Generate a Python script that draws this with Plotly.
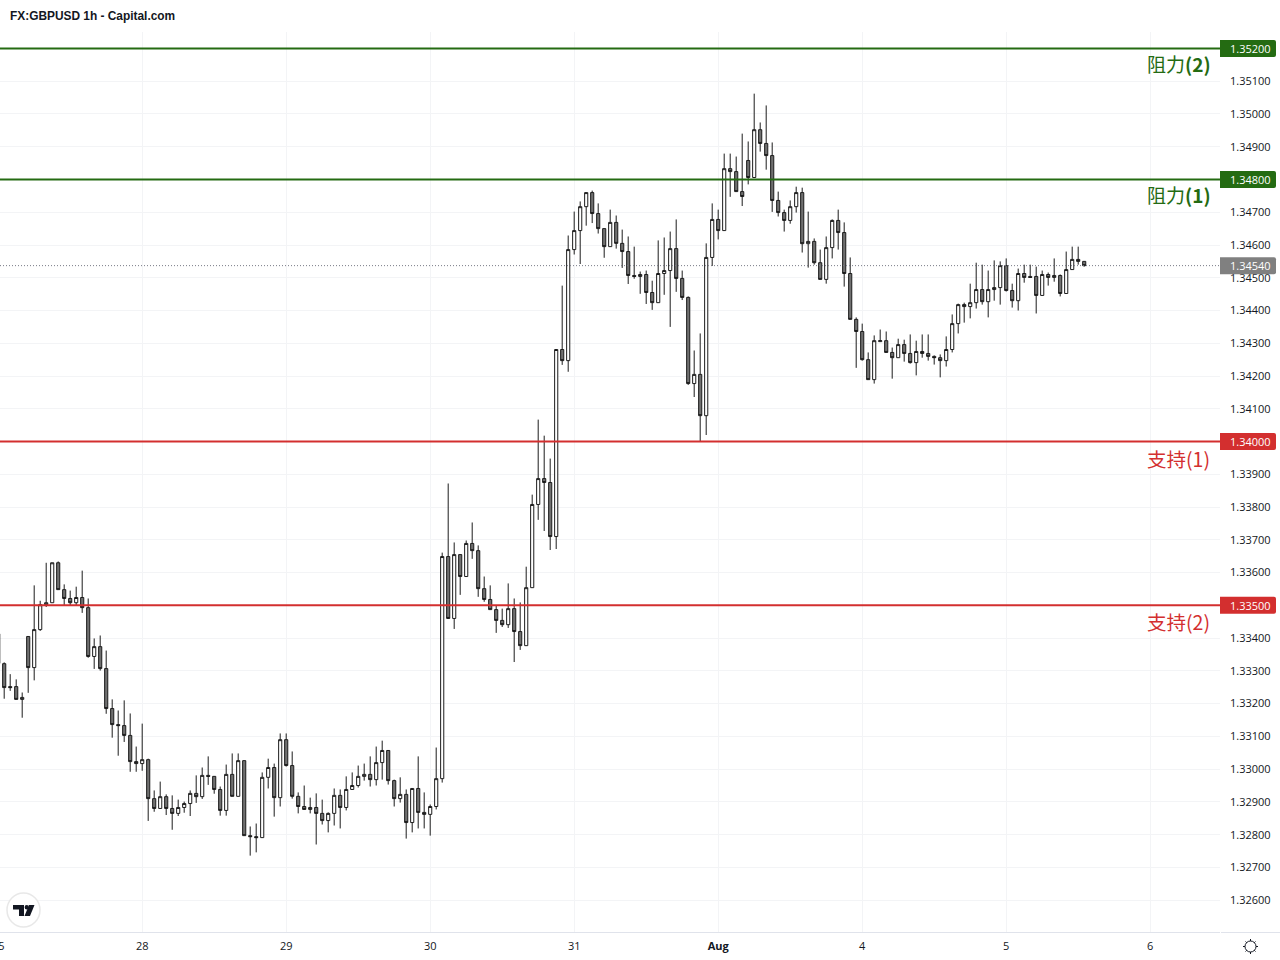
import plotly.graph_objects as go

OPEN = [
 1.33413,1.33322,1.33252,1.33252,1.33213,1.33405,1.33310,1.33426,1.33502,1.33508,1.33630,1.33548,
 1.33521,1.33508,1.33524,1.33493,1.33344,1.33374,1.33307,1.33185,1.33136,1.33133,1.33103,1.33023,
 1.33017,1.33029,1.32910,1.32880,1.32916,1.32880,1.32865,1.32883,1.32895,1.32926,1.32916,1.32981,
 1.32978,1.32938,1.32874,1.32984,1.32917,1.33026,1.32797,1.32794,1.32791,1.32975,1.33005,1.32913,
 1.33090,1.33011,1.32917,1.32886,1.32877,1.32883,1.32865,1.32843,1.32865,1.32920,1.32883,1.32938,
 1.32950,1.32978,1.32984,1.32968,1.33020,1.33057,1.32965,1.32910,1.32923,1.32837,1.32941,1.32868,
 1.32862,1.32886,1.32971,1.33649,1.33460,1.33655,1.33588,1.33689,1.33667,1.33551,1.33518,1.33487,
 1.33454,1.33441,1.33490,1.33420,1.33377,1.33554,1.33808,1.33887,1.33875,1.33710,1.34281,1.34247,
 1.34586,1.34644,1.34717,1.34760,1.34696,1.34650,1.34595,1.34669,1.34605,1.34580,1.34507,1.34504,
 1.34510,1.34455,1.34424,1.34513,1.34522,1.34589,1.34498,1.34440,1.34177,1.34205,1.34079,1.34562,
 1.34678,1.34644,1.34833,1.34824,1.34763,1.34858,1.34806,1.34952,1.34910,1.34873,1.34736,1.34699,
 1.34675,1.34717,1.34760,1.34604,1.34611,1.34546,1.34495,1.34592,1.34675,1.34638,1.34513,1.34373,
 1.34336,1.34250,1.34189,1.34305,1.34308,1.34272,1.34256,1.34296,1.34269,1.34241,1.34275,1.34269,
 1.34260,1.34256,1.34247,1.34281,1.34360,1.34418,1.34412,1.34424,1.34464,1.34427,1.34464,1.34470,
 1.34537,1.34461,1.34430,1.34513,1.34504,1.34504,1.34446,1.34510,1.34501,1.34507,1.34452,1.34525,1.34556,1.34550,
]
CLOSE = [
 1.33323,1.33249,1.33249,1.33213,1.33219,1.33310,1.33426,1.33502,1.33508,1.33630,1.33548,1.33521,
 1.33508,1.33524,1.33493,1.33344,1.33374,1.33307,1.33185,1.33136,1.33133,1.33103,1.33023,1.33017,
 1.33029,1.32910,1.32880,1.32916,1.32880,1.32865,1.32883,1.32895,1.32926,1.32916,1.32981,1.32978,
 1.32938,1.32874,1.32984,1.32917,1.33026,1.32797,1.32794,1.32791,1.32975,1.33005,1.32913,1.33090,
 1.33011,1.32917,1.32886,1.32877,1.32883,1.32865,1.32843,1.32865,1.32920,1.32883,1.32938,1.32950,
 1.32978,1.32984,1.32968,1.33020,1.33057,1.32965,1.32910,1.32923,1.32837,1.32941,1.32868,1.32862,
 1.32886,1.32971,1.33649,1.33460,1.33655,1.33588,1.33689,1.33667,1.33551,1.33518,1.33487,1.33454,
 1.33441,1.33490,1.33420,1.33377,1.33554,1.33808,1.33887,1.33875,1.33710,1.34281,1.34247,1.34586,
 1.34644,1.34717,1.34760,1.34696,1.34650,1.34595,1.34669,1.34605,1.34580,1.34507,1.34504,1.34510,
 1.34455,1.34424,1.34513,1.34522,1.34589,1.34498,1.34440,1.34177,1.34205,1.34079,1.34562,1.34678,
 1.34644,1.34833,1.34824,1.34763,1.34748,1.34806,1.34952,1.34910,1.34873,1.34736,1.34699,1.34675,
 1.34717,1.34760,1.34604,1.34611,1.34546,1.34495,1.34592,1.34675,1.34638,1.34513,1.34373,1.34336,
 1.34250,1.34189,1.34308,1.34308,1.34272,1.34256,1.34296,1.34269,1.34241,1.34275,1.34269,1.34260,
 1.34256,1.34247,1.34281,1.34360,1.34418,1.34412,1.34424,1.34464,1.34427,1.34464,1.34470,1.34537,
 1.34461,1.34430,1.34513,1.34501,1.34501,1.34446,1.34510,1.34501,1.34507,1.34452,1.34525,1.34556,1.34550,1.34537,
]
HIGH = [
 1.33414,1.33326,1.33290,1.33274,1.33234,1.33405,1.33561,1.33514,1.33630,1.33630,1.33634,1.33564,
 1.33545,1.33557,1.33606,1.33521,1.33399,1.33408,1.33362,1.33213,1.33179,1.33210,1.33170,1.33069,
 1.33139,1.33032,1.32935,1.32962,1.32923,1.32920,1.32907,1.32901,1.32935,1.32981,1.33005,1.33039,
 1.32978,1.32947,1.33014,1.33048,1.33048,1.33026,1.32825,1.32834,1.32990,1.33032,1.33017,1.33109,
 1.33109,1.33054,1.32929,1.32950,1.32913,1.32926,1.32907,1.32868,1.32941,1.32938,1.32978,1.32990,
 1.33011,1.33017,1.33039,1.33069,1.33087,1.33057,1.32968,1.32975,1.32938,1.32941,1.33039,1.32929,
 1.32892,1.33066,1.33661,1.33872,1.33692,1.33655,1.33698,1.33753,1.33683,1.33588,1.33561,1.33499,
 1.33490,1.33567,1.33521,1.33509,1.33618,1.33838,1.34067,1.34018,1.33948,1.34281,1.34476,1.34629,
 1.34702,1.34733,1.34760,1.34766,1.34727,1.34650,1.34708,1.34690,1.34647,1.34626,1.34595,1.34519,
 1.34522,1.34491,1.34614,1.34623,1.34641,1.34678,1.34522,1.34443,1.34278,1.34330,1.34605,1.34727,
 1.34708,1.34879,1.34879,1.34870,1.34940,1.34916,1.35062,1.34974,1.35026,1.34913,1.34763,1.34708,
 1.34736,1.34778,1.34775,1.34702,1.34620,1.34586,1.34626,1.34678,1.34708,1.34669,1.34562,1.34379,
 1.34360,1.34272,1.34324,1.34342,1.34336,1.34287,1.34314,1.34311,1.34327,1.34308,1.34327,1.34327,
 1.34263,1.34266,1.34321,1.34388,1.34421,1.34424,1.34482,1.34546,1.34540,1.34522,1.34553,1.34550,
 1.34559,1.34482,1.34528,1.34540,1.34540,1.34534,1.34522,1.34516,1.34559,1.34510,1.34580,1.34595,1.34595,1.34550,
]
LOW = [
 1.33323,1.33215,1.33239,1.33213,1.33157,1.33233,1.33271,1.33422,1.33495,1.33508,1.33548,1.33498,
 1.33498,1.33498,1.33477,1.33340,1.33306,1.33301,1.33169,1.33096,1.33041,1.33083,1.32992,1.32992,
 1.32995,1.32842,1.32870,1.32880,1.32860,1.32815,1.32857,1.32867,1.32857,1.32897,1.32909,1.32952,
 1.32925,1.32858,1.32858,1.32917,1.32917,1.32797,1.32736,1.32746,1.32791,1.32941,1.32855,1.32886,
 1.33008,1.32910,1.32865,1.32877,1.32865,1.32770,1.32831,1.32807,1.32828,1.32819,1.32874,1.32938,
 1.32944,1.32965,1.32947,1.32950,1.32968,1.32953,1.32886,1.32898,1.32788,1.32807,1.32819,1.32819,
 1.32797,1.32877,1.32959,1.33460,1.33428,1.33532,1.33588,1.33642,1.33526,1.33511,1.33487,1.33416,
 1.33434,1.33431,1.33327,1.33364,1.33377,1.33554,1.33761,1.33727,1.33669,1.33672,1.34234,1.34213,
 1.34571,1.34542,1.34659,1.34667,1.34635,1.34561,1.34595,1.34589,1.34530,1.34481,1.34497,1.34451,
 1.34420,1.34402,1.34424,1.34448,1.34350,1.34457,1.34432,1.34173,1.34136,1.34000,1.34020,1.34536,
 1.34617,1.34644,1.34747,1.34763,1.34719,1.34785,1.34806,1.34885,1.34830,1.34701,1.34687,1.34641,
 1.34665,1.34699,1.34577,1.34531,1.34540,1.34495,1.34482,1.34559,1.34586,1.34473,1.34373,1.34225,
 1.34247,1.34189,1.34177,1.34305,1.34272,1.34192,1.34256,1.34244,1.34238,1.34202,1.34256,1.34247,
 1.34235,1.34196,1.34229,1.34272,1.34330,1.34363,1.34376,1.34406,1.34418,1.34379,1.34430,1.34418,
 1.34458,1.34409,1.34400,1.34485,1.34501,1.34391,1.34446,1.34476,1.34488,1.34443,1.34452,1.34525,1.34540,1.34534,
]
BAR_INDEX = list(range(-24, 158))

DAY_TICKS = [0, 24, 48, 72, 96, 120, 144, 168]
DAY_LABELS = ["28", "29", "30", "31", "<b>Aug</b>", "4", "5", "6"]
PRICE_TICKS = [round(1.326 + k * 0.001, 3) for k in range(26)]

LEVELS = [1.35200, 1.34800, 1.34000, 1.33500]
LEVEL_TEXT = ["1.35200", "1.34800", "1.34000", "1.33500"]
LEVEL_NAMES = ["阻力<b>(2)</b>", "阻力<b>(1)</b>", "支持(1)", "支持(2)"]
LEVEL_COLORS = ["#246b12", "#246b12", "#d32f2f", "#d32f2f"]
LABEL_RIGHT = [1213, 1213, 1212, 1212]
LAST_PRICE = 1.34537
LAST_TEXT = "1.34540"

W, H = 1280, 960
L, R, T, B = 0, 60, 32, 28
PW, PH = W - L - R, H - T - B
FONT = "Open Sans, Liberation Sans, sans-serif"
CJK = "Noto Sans CJK SC, Noto Sans, sans-serif"
INK = "#131722"
TAG_PATH = "M 0 -8.5 L 54 -8.5 Q 56 -8.5 56 -6.5 L 56 6.5 Q 56 8.5 54 8.5 L 0 8.5 Z"


def px(x):
    return (x - L) / PW


def py(y):
    return (H - B - y) / PH


def pxy(x, y):
    return f"{px(x):.5f} {py(y):.5f}"


def add_tag(shapes, annotations, level, text, color):
    shapes.append(dict(type="path", xref="paper", yref="y", xsizemode="pixel", ysizemode="pixel",
                       xanchor=1, yanchor=level, path=TAG_PATH, fillcolor=color, line=dict(width=0),
                       layer="above"))
    annotations.append(dict(xref="paper", yref="y", x=1, y=level, xshift=30, xanchor="center", yanchor="middle",
                            text=text, showarrow=False, font=dict(family=FONT, size=11, color="#ffffff")))


fig = go.Figure(go.Candlestick(
    x=BAR_INDEX, open=OPEN, high=HIGH, low=LOW, close=CLOSE,
    increasing=dict(line=dict(color="#1c1c1c", width=1), fillcolor="#ffffff"),
    decreasing=dict(line=dict(color="#1c1c1c", width=1), fillcolor="#707070"),
    whiskerwidth=0, hoverinfo="skip", showlegend=False,
))

shapes = []
annotations = []
for level, tag, name, color, right in zip(LEVELS, LEVEL_TEXT, LEVEL_NAMES, LEVEL_COLORS, LABEL_RIGHT):
    shapes.append(dict(type="line", xref="paper", yref="y", x0=0, x1=1, y0=level, y1=level,
                       line=dict(color=color, width=2)))
    add_tag(shapes, annotations, level, tag, color)
    annotations.append(dict(xref="paper", yref="y", x=px(right), y=level, xanchor="right", yanchor="top",
                            yshift=0, text=name, showarrow=False,
                            font=dict(family=CJK, size=19.5 if right == 1212 else 19, color=color)))

shapes.append(dict(type="line", xref="paper", yref="y", x0=0, x1=1, y0=LAST_PRICE, y1=LAST_PRICE,
                   line=dict(color="#787b86", width=1, dash="1px,2px")))
add_tag(shapes, annotations, LAST_PRICE, LAST_TEXT, "#808080")

# clipped date label at the left edge ("25")
annotations.append(dict(xref="paper", yref="paper", x=px(-2), y=py(945), xanchor="center", yanchor="middle",
                        text="25", showarrow=False, font=dict(family=FONT, size=11, color=INK)))

# price-axis continuation of the bottom rule
shapes.append(dict(type="line", xref="paper", yref="paper", x0=px(1221), x1=px(1280), y0=py(932.5), y1=py(932.5),
                   line=dict(color="#e0e3eb", width=1)))

# logo badge
shapes.append(dict(type="circle", xref="paper", yref="paper", x0=px(7), x1=px(40), y0=py(927), y1=py(893),
                   line=dict(color="#e8e8e8", width=1.5), fillcolor="#ffffff"))
t_path = "M " + " L ".join(pxy(a, b) for a, b in [(13, 905), (24, 905), (24, 916), (19, 916), (19, 909.5), (13, 909.5)]) + " Z"
s_path = "M " + " L ".join(pxy(a, b) for a, b in [(29, 905), (34.5, 905), (30, 916), (24.5, 916)]) + " Z"
for p in (t_path, s_path):
    shapes.append(dict(type="path", xref="paper", yref="paper", path=p, fillcolor=INK, line=dict(width=0)))
shapes.append(dict(type="circle", xref="paper", yref="paper", x0=px(24.6), x1=px(28.9), y0=py(909.4), y1=py(905),
                   fillcolor=INK, line=dict(width=0)))

# settings icon
shapes.append(dict(type="circle", xref="paper", yref="paper", x0=px(1245), x1=px(1256), y0=py(952), y1=py(941),
                   line=dict(color=INK, width=1), fillcolor="#ffffff"))
for a, b, c, d in [(1250.5, 939, 1250.5, 941), (1250.5, 952, 1250.5, 954), (1243, 946.5, 1245, 946.5),
                   (1256, 946.5, 1258, 946.5), (1245.5, 941.5, 1246.8, 942.8), (1254.2, 950.2, 1255.5, 951.5),
                   (1254.2, 942.8, 1255.5, 941.5), (1245.5, 951.5, 1246.8, 950.2)]:
    shapes.append(dict(type="line", xref="paper", yref="paper", x0=px(a), x1=px(c), y0=py(b), y1=py(d),
                       line=dict(color=INK, width=1)))

fig.update_layout(
    width=W, height=H, margin=dict(l=L, r=R, t=T, b=B, pad=0), autosize=False,
    paper_bgcolor="#ffffff", plot_bgcolor="#ffffff", boxgap=0.25, showlegend=False,
    title=dict(text="<b>FX:GBPUSD 1h - Capital.com</b>", x=10 / W, xref="container", xanchor="left",
               y=1 - 15.5 / H, yref="container", yanchor="middle",
               font=dict(family="Liberation Sans, sans-serif", size=11.9, color=INK)),
    xaxis=dict(range=[-23.70, 179.6333], rangeslider=dict(visible=False), tickmode="array",
               tickvals=DAY_TICKS, ticktext=DAY_LABELS, showgrid=True, gridcolor="#f3f4f6", gridwidth=1,
               zeroline=False, showline=True, linecolor="#e0e3eb", linewidth=1, ticks="",
               tickfont=dict(family=FONT, size=11, color=INK), ticklabelstandoff=4, automargin=False),
    yaxis=dict(range=[1.325029, 1.352502], side="right", tickmode="array", tickvals=PRICE_TICKS,
               tickformat=".5f", showgrid=True, gridcolor="#f3f4f6", gridwidth=1, zeroline=False,
               showline=False, ticks="", ticklabelstandoff=9,
               tickfont=dict(family=FONT, size=11, color=INK), automargin=False),
    shapes=shapes, annotations=annotations, hovermode=False,
)

fig.write_html("out.html", config={"displayModeBar": False},
               post_script="document.body.style.margin='0';document.documentElement.style.overflow='hidden';")
